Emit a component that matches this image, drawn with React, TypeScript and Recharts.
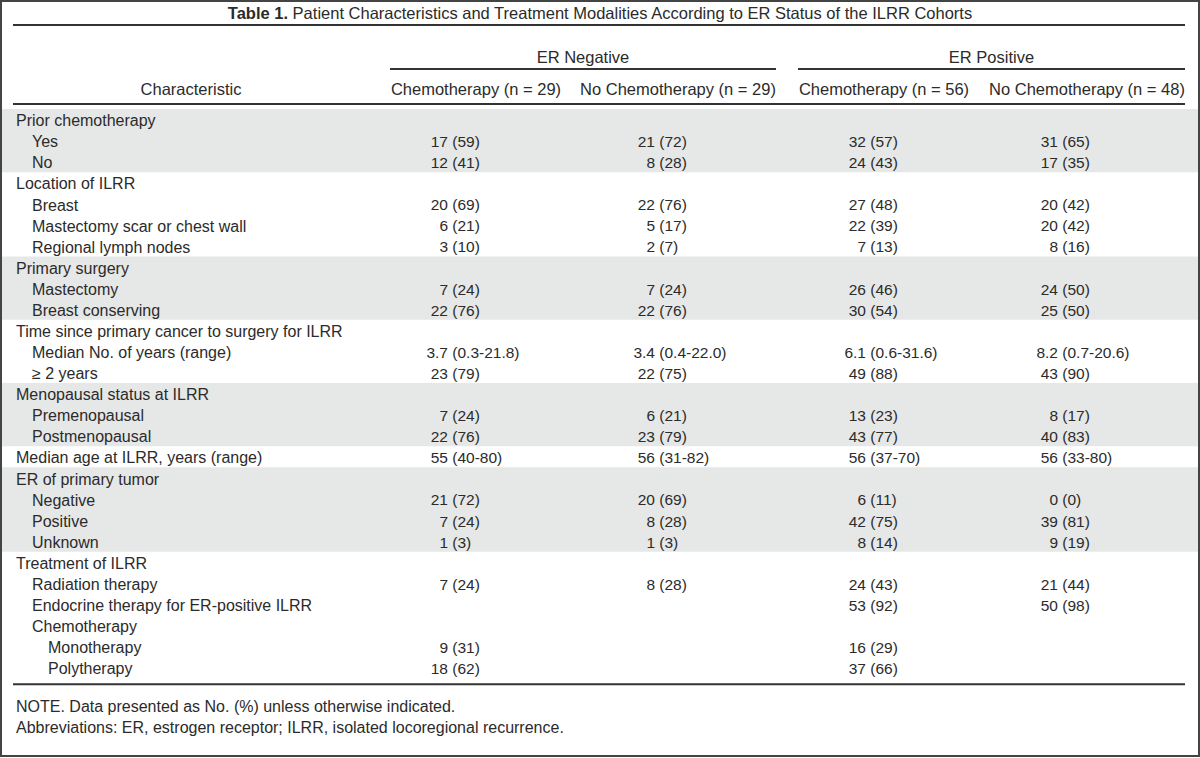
import React from "react";
import { Surface, Layer, Rectangle, Text } from "recharts";

const titleBold = "Table 1.";
const titleText = "Patient Characteristics and Treatment Modalities According to ER Status of the ILRR Cohorts";
const groupHeaders = ["ER Negative", "ER Positive"];
const columnHeaders = [
  "Chemotherapy (n = 29)",
  "No Chemotherapy (n = 29)",
  "Chemotherapy (n = 56)",
  "No Chemotherapy (n = 48)",
];

const rowLabels = [
  "Prior chemotherapy",
  "Yes",
  "No",
  "Location of ILRR",
  "Breast",
  "Mastectomy scar or chest wall",
  "Regional lymph nodes",
  "Primary surgery",
  "Mastectomy",
  "Breast conserving",
  "Time since primary cancer to surgery for ILRR",
  "Median No. of years (range)",
  "\u2265 2 years",
  "Menopausal status at ILRR",
  "Premenopausal",
  "Postmenopausal",
  "Median age at ILRR, years (range)",
  "ER of primary tumor",
  "Negative",
  "Positive",
  "Unknown",
  "Treatment of ILRR",
  "Radiation therapy",
  "Endocrine therapy for ER-positive ILRR",
  "Chemotherapy",
  "Monotherapy",
  "Polytherapy",
];
const rowIndent = [0, 1, 1, 0, 1, 1, 1, 0, 1, 1, 0, 1, 1, 0, 1, 1, 0, 0, 1, 1, 1, 0, 1, 1, 1, 2, 2];

const erNegChemo = [
  "", "17 (59)", "12 (41)", "", "20 (69)", "6 (21)", "3 (10)", "", "7 (24)", "22 (76)",
  "", "3.7 (0.3-21.8)", "23 (79)", "", "7 (24)", "22 (76)", "55 (40-80)", "", "21 (72)",
  "7 (24)", "1 (3)", "", "7 (24)", "", "", "9 (31)", "18 (62)",
];
const erNegNoChemo = [
  "", "21 (72)", "8 (28)", "", "22 (76)", "5 (17)", "2 (7)", "", "7 (24)", "22 (76)",
  "", "3.4 (0.4-22.0)", "22 (75)", "", "6 (21)", "23 (79)", "56 (31-82)", "", "20 (69)",
  "8 (28)", "1 (3)", "", "8 (28)", "", "", "", "",
];
const erPosChemo = [
  "", "32 (57)", "24 (43)", "", "27 (48)", "22 (39)", "7 (13)", "", "26 (46)", "30 (54)",
  "", "6.1 (0.6-31.6)", "49 (88)", "", "13 (23)", "43 (77)", "56 (37-70)", "", "6 (11)",
  "42 (75)", "8 (14)", "", "24 (43)", "53 (92)", "", "16 (29)", "37 (66)",
];
const erPosNoChemo = [
  "", "31 (65)", "17 (35)", "", "20 (42)", "20 (42)", "8 (16)", "", "24 (50)", "25 (50)",
  "", "8.2 (0.7-20.6)", "43 (90)", "", "8 (17)", "40 (83)", "56 (33-80)", "", "0 (0)",
  "39 (81)", "9 (19)", "", "21 (44)", "50 (98)", "", "", "",
];
const columns = [erNegChemo, erNegNoChemo, erPosChemo, erPosNoChemo];

// first row of each section; even sections get the grey band
const sectionStarts = [0, 3, 7, 10, 13, 16, 17, 21];

const notes = [
  "NOTE. Data presented as No. (%) unless otherwise indicated.",
  "Abbreviations: ER, estrogen receptor; ILRR, isolated locoregional recurrence.",
];

const W = 1200;
const H = 758;
const FONT = "'Liberation Sans', Arial, sans-serif";
const FS_VALUE = 15.5;
const FS_LABEL = 16;
const FS_HEAD = 16.5;
const INK = "#2b2b2b";
const RULE = "#333";
const BAND = "#e6e7e7";

const ruleLeft = 13;
const ruleRight = 1185;
const bodyTop = 109;
const rowH = 21.08;
const headerCenters = [476, 678, 884, 1087];
const valueAnchors = [448, 655, 866, 1058];
const groupSpans = [
  [390, 776],
  [798, 1185],
];

const rowTop = (i: number) => bodyTop + i * rowH;
const rowMid = (i: number) => rowTop(i) + 11.5;

function Cell({ x, y, value }: { x: number; y: number; value: string }) {
  if (!value) return null;
  const cut = value.indexOf(" ");
  const head = value.slice(0, cut);
  const tail = value.slice(cut + 1);
  return (
    <Layer>
      <Text x={x} y={y} textAnchor="end" verticalAnchor="middle" fontSize={FS_VALUE} fill={INK}>
        {head}
      </Text>
      <Text x={x + 4.3} y={y} textAnchor="start" verticalAnchor="middle" fontSize={FS_VALUE} fill={INK}>
        {tail}
      </Text>
    </Layer>
  );
}

export default function App() {
  const bands = sectionStarts.map((start, k) => {
    const end = k + 1 < sectionStarts.length ? sectionStarts[k + 1] : rowLabels.length;
    return { start, end, shaded: k % 2 === 0 };
  });
  const bodyBottom = rowTop(rowLabels.length);

  return (
    <div style={{ position: "absolute", left: 0, top: 0, width: W, height: H, background: "#fff" }}>
      <Surface width={W} height={H} style={{ fontFamily: FONT }}>
        {bands
          .filter((b) => b.shaded)
          .map((b) => (
            <Rectangle
              key={b.start}
              x={2}
              y={rowTop(b.start)}
              width={W - 4}
              height={(b.end - b.start) * rowH}
              fill={BAND}
            />
          ))}

        <text x={W / 2} y={19} textAnchor="middle" fontSize={FS_HEAD} fill={INK} fontFamily={FONT}>
          <tspan fontWeight="bold">{titleBold}</tspan>
          <tspan>{" " + titleText}</tspan>
        </text>

        <line x1={ruleLeft} x2={ruleRight} y1={25} y2={25} stroke={RULE} strokeWidth={2} />

        {groupHeaders.map((g, i) => (
          <Layer key={g}>
            <Text
              x={(groupSpans[i][0] + groupSpans[i][1]) / 2}
              y={57}
              textAnchor="middle"
              verticalAnchor="middle"
              fontSize={FS_HEAD}
              fill={INK}
            >
              {g}
            </Text>
            <line x1={groupSpans[i][0]} x2={groupSpans[i][1]} y1={69} y2={69} stroke={RULE} strokeWidth={2} />
          </Layer>
        ))}

        <Text x={191} y={89} textAnchor="middle" verticalAnchor="middle" fontSize={FS_HEAD} fill={INK}>
          Characteristic
        </Text>
        {columnHeaders.map((c, i) => (
          <Text key={i} x={headerCenters[i]} y={89} textAnchor="middle" verticalAnchor="middle" fontSize={FS_HEAD} fill={INK}>
            {c}
          </Text>
        ))}
        <line x1={ruleLeft} x2={ruleRight} y1={104} y2={104} stroke={RULE} strokeWidth={2} />

        {rowLabels.map((label, i) => (
          <Layer key={i}>
            <Text
              x={16 + rowIndent[i] * 16}
              y={rowMid(i)}
              textAnchor="start"
              verticalAnchor="middle"
              fontSize={FS_LABEL}
              fill={INK}
            >
              {label}
            </Text>
            {columns.map((col, c) => (
              <Cell key={c} x={valueAnchors[c]} y={rowMid(i)} value={col[i]} />
            ))}
          </Layer>
        ))}

        <line x1={ruleLeft} x2={ruleRight} y1={bodyBottom + 6} y2={bodyBottom + 6} stroke={RULE} strokeWidth={2} />

        {notes.map((n, i) => (
          <Text key={i} x={16} y={706 + i * 21} textAnchor="start" verticalAnchor="middle" fontSize={FS_LABEL} fill={INK}>
            {n}
          </Text>
        ))}

        <rect x={1} y={1} width={W - 2} height={H - 3} fill="none" stroke="#444" strokeWidth={2} />
      </Surface>
    </div>
  );
}
